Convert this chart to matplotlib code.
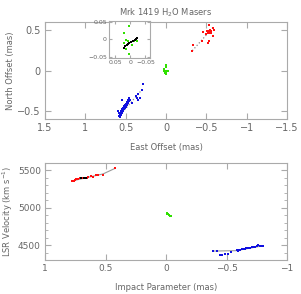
import matplotlib
matplotlib.use('Agg')
import matplotlib.pyplot as plt
from matplotlib.ticker import FuncFormatter, MultipleLocator

######### Data #########
# top panel: sky positions (East offset, North offset) in mas
red_east = [-0.326, -0.339, -0.442, -0.463, -0.525, -0.537, -0.505, -0.533, -0.546,
            -0.558, -0.587, -0.599, -0.587, -0.492, -0.558, -0.533, -0.54, -0.55, -0.52]
red_north = [0.245, 0.319, 0.361, 0.476, 0.340, 0.361, 0.492, 0.485, 0.505,
             0.490, 0.526, 0.505, 0.423, 0.451, 0.464, 0.567, 0.47, 0.48, 0.46]

blue_east = [0.289, 0.294, 0.343, 0.363, 0.322, 0.343, 0.376, 0.459, 0.467, 0.542,
             0.508, 0.591, 0.425, 0.480, 0.570, 0.560, 0.550, 0.540, 0.530, 0.520,
             0.510, 0.500, 0.490, 0.480, 0.470, 0.460, 0.450, 0.575, 0.585, 0.555,
             0.545, 0.535, 0.505, 0.495, 0.485, 0.465, 0.580, 0.565, 0.525, 0.515]
blue_north = [-0.171, -0.241, -0.295, -0.344, -0.344, -0.365, -0.315, -0.344, -0.377, -0.365,
              -0.448, -0.501, -0.406, -0.430, -0.570, -0.545, -0.530, -0.510, -0.495, -0.480,
              -0.465, -0.450, -0.430, -0.415, -0.400, -0.380, -0.360, -0.550, -0.520, -0.500,
              -0.470, -0.460, -0.420, -0.410, -0.390, -0.370, -0.560, -0.525, -0.470, -0.440]

green_east = [0.000, 0.003, 0.021, 0.0135, 0.008, -0.0135, -0.022, -0.006, 0.0135, 0.021, 0.005]
green_north = [0.065, 0.039, 0.019, -0.003, -0.005, -0.005, -0.005, -0.017, -0.027, -0.011, -0.040]

black_east = [0.021, 0.017, 0.012, 0.008, 0.003, -0.004, -0.010, -0.016, -0.020, -0.024]
black_north = [-0.023, -0.019, -0.017, -0.014, -0.011, -0.008, -0.004, -0.002, 0.001, 0.003]

red_fit_east = [-0.326, -0.575]
red_fit_north = [0.245, 0.525]
blue_fit_east = [0.57, 0.31]
blue_fit_north = [-0.55, -0.25]

# bottom panel: impact parameter (mas) vs LSR velocity (km/s)
red_b = [0.779, 0.752, 0.725, 0.697, 0.669, 0.642, 0.620, 0.600, 0.559, 0.523, 0.421,
         0.760, 0.740, 0.710, 0.685, 0.655, 0.580]
red_v = [5353, 5372, 5385, 5393, 5398, 5405, 5419, 5415, 5441, 5441, 5530,
         5362, 5378, 5389, 5396, 5402, 5430]

blue_b = [-0.391, -0.419, -0.446, -0.465, -0.488, -0.515, -0.537, -0.584, -0.598, -0.625,
          -0.653, -0.680, -0.708, -0.735, -0.758, -0.777, -0.804, -0.592, -0.610, -0.640,
          -0.665, -0.695, -0.720, -0.750, -0.790]
blue_v = [4416, 4416, 4372, 4363, 4382, 4386, 4403, 4429, 4438, 4447,
          4452, 4461, 4469, 4474, 4495, 4491, 4491, 4420, 4440, 4448,
          4456, 4465, 4470, 4482, 4488]

green_b = [-0.006, -0.012, -0.019, -0.026, -0.033, -0.040]
green_v = [4923, 4916, 4910, 4900, 4891, 4888]

black_b = [0.700, 0.680, 0.660]
black_v = [5392, 5395, 5398]

red_model_b = [0.78, 0.52, 0.42]
red_model_v = [5355, 5450, 5525]
blue_model_b = [-0.40, -0.58, -0.80]
blue_model_v = [4420, 4425, 4490]

GREY = '#666666'
FRAME = '#aaaaaa'
RED = '#ff1010'
BLUE = '#1010e0'
GREEN = '#30e000'


def fmt(v, pos):
    return ('%g' % v).replace('-', '\u2212')


def style(ax, size=7):
    for s in ax.spines.values():
        s.set_color(FRAME)
        s.set_linewidth(0.8)
    ax.tick_params(which='both', direction='in', top=True, right=True,
                   color=FRAME, labelcolor=GREY, labelsize=size, pad=3)
    ax.tick_params(which='major', length=4)
    ax.tick_params(which='minor', length=2)
    ax.xaxis.set_major_formatter(FuncFormatter(fmt))
    ax.yaxis.set_major_formatter(FuncFormatter(fmt))


fig = plt.figure(figsize=(3.01, 2.94), dpi=100)
ms = 1.6

# top panel
ax1 = fig.add_axes([0.1495, 0.595, 0.804, 0.330])
ax1.plot(red_fit_east, red_fit_north, ls=':', color='#888888', lw=0.9, zorder=1)
ax1.plot(blue_fit_east, blue_fit_north, ls=':', color='#888888', lw=0.9, zorder=1)
ax1.plot(red_east, red_north, 's', color=RED, ms=ms, mew=0, zorder=2)
ax1.plot(blue_east, blue_north, 's', color=BLUE, ms=ms, mew=0, zorder=2)
ax1.plot(green_east, green_north, 's', color=GREEN, ms=ms, mew=0, zorder=2)
ax1.set_xlim(1.5, -1.5)
ax1.set_ylim(-0.6, 0.6)
ax1.xaxis.set_major_locator(MultipleLocator(0.5))
ax1.yaxis.set_major_locator(MultipleLocator(0.5))
style(ax1)
ax1.set_xlabel('East Offset (mas)', fontsize=6, color=GREY, labelpad=7)
ax1.set_ylabel('North Offset (mas)', fontsize=6, color=GREY, labelpad=2)
ax1.set_title('Mrk 1419 H$_2$O Masers', fontsize=6, color=GREY, pad=5)

# inset zoom on the systemic masers
axi = fig.add_axes([0.362, 0.803, 0.136, 0.126])
axi.set_facecolor('white')
axi.plot(green_east, green_north, 's', color=GREEN, ms=ms, mew=0)
axi.plot(black_east, black_north, 's', color='black', ms=ms + 0.3, mew=0)
axi.set_xlim(0.07, -0.065)
axi.set_ylim(-0.052, 0.052)
axi.set_xticks([0.05, 0, -0.05])
axi.set_yticks([0.05, 0, -0.05])
style(axi, size=4.5)
axi.tick_params(which='major', length=2.5, pad=1.5)

# bottom panel
ax2 = fig.add_axes([0.1495, 0.1156, 0.804, 0.331])
ax2.plot(red_model_b, red_model_v, '-', color='#999999', lw=0.8, zorder=1)
ax2.plot(blue_model_b, blue_model_v, '-', color='#999999', lw=0.8, zorder=1)
ax2.plot(red_b, red_v, 's', color=RED, ms=ms, mew=0, zorder=2)
ax2.plot(black_b, black_v, 's', color='black', ms=ms, mew=0, zorder=3)
ax2.plot(blue_b, blue_v, 's', color=BLUE, ms=ms, mew=0, zorder=2)
ax2.plot(green_b, green_v, 's', color=GREEN, ms=ms, mew=0, zorder=2)
ax2.set_xlim(1, -1)
ax2.set_ylim(4300, 5600)
ax2.xaxis.set_major_locator(MultipleLocator(0.5))
ax2.yaxis.set_major_locator(MultipleLocator(500))
ax2.yaxis.set_minor_locator(MultipleLocator(100))
style(ax2, size=6.5)
ax2.set_xlabel('Impact Parameter (mas)', fontsize=6, color=GREY, labelpad=7)
ax2.set_ylabel('LSR Velocity (km s$^{-1}$)', fontsize=6, color=GREY, labelpad=2)

fig.savefig('out.png', dpi=100)
